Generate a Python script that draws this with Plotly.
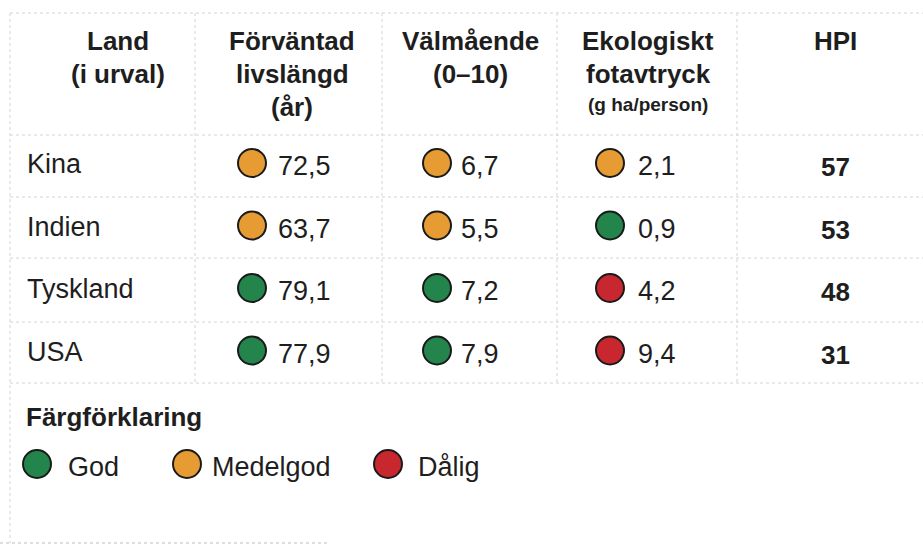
import plotly.graph_objects as go

# ---------------- data ----------------
countries = ["Kina", "Indien", "Tyskland", "USA"]
life_expectancy = [72.5, 63.7, 79.1, 77.9]
wellbeing = [6.7, 5.5, 7.2, 7.9]
footprint = [2.1, 0.9, 4.2, 9.4]
hpi = [57, 53, 48, 31]
life_rating = ["Medelgod", "Medelgod", "God", "God"]
well_rating = ["Medelgod", "Medelgod", "God", "God"]
foot_rating = ["Medelgod", "God", "Dålig", "Dålig"]
legend_labels = ["God", "Medelgod", "Dålig"]
headers = [
    ["Land", "(i urval)"],
    ["Förväntad", "livslängd", "(år)"],
    ["Välmående", "(0–10)"],
    ["Ekologiskt", "fotavtryck"],
    ["HPI"],
]
header_sub = "(g ha/person)"
legend_title = "Färgförklaring"

# ---------------- styling ----------------
COLORS = {"God": "#23844c", "Medelgod": "#e79b33", "Dålig": "#c9272f"}
FONT = "Liberation Sans, Arial, sans-serif"
TXT = "#1e1e1e"
W, H = 923, 549

col_centers = [118, 292, 470, 648, 835]
circle_x = [252, 437, 610]
value_x = [276, 459, 636]
row_y0, row_dy = 164, 62.5
header_y0, header_dy = 41, 33
body_size = 27
head_size = 26

fig = go.Figure()
ann = []

def fmt(v):
    return f"{v:.1f}".replace(".", ",")

# header
for ci, lines in enumerate(headers):
    for li, t in enumerate(lines):
        ann.append(dict(x=col_centers[ci], y=header_y0 + li * header_dy, text=f"<b>{t}</b>",
                        xanchor="center", yanchor="middle", showarrow=False,
                        font=dict(size=head_size, family=FONT, color=TXT)))
ann.append(dict(x=col_centers[3], y=header_y0 + 2 * header_dy - 3, text=f"<b>{header_sub}</b>",
                xanchor="center", yanchor="middle", showarrow=False,
                font=dict(size=19, family=FONT, color=TXT)))

# rows
rows_y = [row_y0 + i * row_dy for i in range(len(countries))]
for i, c in enumerate(countries):
    y = rows_y[i]
    ann.append(dict(x=25, y=y, text=c, xanchor="left", yanchor="middle", showarrow=False,
                    font=dict(size=body_size, family=FONT, color=TXT)))
    for k, vals in enumerate([life_expectancy, wellbeing, footprint]):
        ann.append(dict(x=value_x[k], y=y + 2, text=fmt(vals[i]), xanchor="left", yanchor="middle",
                        showarrow=False, font=dict(size=body_size, family=FONT, color=TXT)))
    ann.append(dict(x=col_centers[4], y=y + 3, text=f"<b>{hpi[i]}</b>", xanchor="center",
                    yanchor="middle", showarrow=False,
                    font=dict(size=body_size - 1, family=FONT, color=TXT)))

for k, ratings in enumerate([life_rating, well_rating, foot_rating]):
    fig.add_trace(go.Scatter(
        x=[circle_x[k]] * len(ratings), y=[yy - 1 for yy in rows_y], mode="markers",
        marker=dict(size=28, color=[COLORS[r] for r in ratings],
                    line=dict(color="#1a1a1a", width=2)),
        hoverinfo="skip", showlegend=False))

# legend
ann.append(dict(x=24, y=417, text=f"<b>{legend_title}</b>", xanchor="left", yanchor="middle",
                showarrow=False, font=dict(size=head_size, family=FONT, color=TXT)))
leg_circle_x = [37, 187, 388]
leg_text_x = [66, 210, 416]
fig.add_trace(go.Scatter(
    x=leg_circle_x, y=[464] * 3, mode="markers",
    marker=dict(size=28, color=[COLORS[l] for l in legend_labels],
                line=dict(color="#1a1a1a", width=2)),
    hoverinfo="skip", showlegend=False))
for j, l in enumerate(legend_labels):
    ann.append(dict(x=leg_text_x[j], y=467, text=l, xanchor="left", yanchor="middle",
                    showarrow=False, font=dict(size=body_size, family=FONT, color=TXT)))

# grid lines
shapes = []
grid = dict(color="#d4d4da", width=1, dash="dot")
for y in [13, 135, 197, 258, 322, 383]:
    shapes.append(dict(type="line", x0=10, x1=923, y0=y, y1=y, line=grid, layer="below"))
for x in [195, 382, 557, 737]:
    shapes.append(dict(type="line", x0=x, x1=x, y0=13, y1=383, line=grid, layer="below"))
shapes.append(dict(type="line", x0=10, x1=10, y0=13, y1=543, line=grid, layer="below"))
shapes.append(dict(type="line", x0=0, x1=330, y0=543, y1=543,
                   line=dict(color="#bdbdc4", width=1, dash="dot"), layer="below"))

fig.update_layout(
    width=W, height=H, margin=dict(l=0, r=0, t=0, b=0),
    paper_bgcolor="white", plot_bgcolor="white",
    xaxis=dict(range=[0, W], visible=False, fixedrange=True),
    yaxis=dict(range=[H, 0], visible=False, fixedrange=True),
    annotations=ann, shapes=shapes, showlegend=False,
)
fig.write_html("out.html", config={"displayModeBar": False},
               post_script="document.body.style.margin='0';document.body.style.overflow='hidden';")
